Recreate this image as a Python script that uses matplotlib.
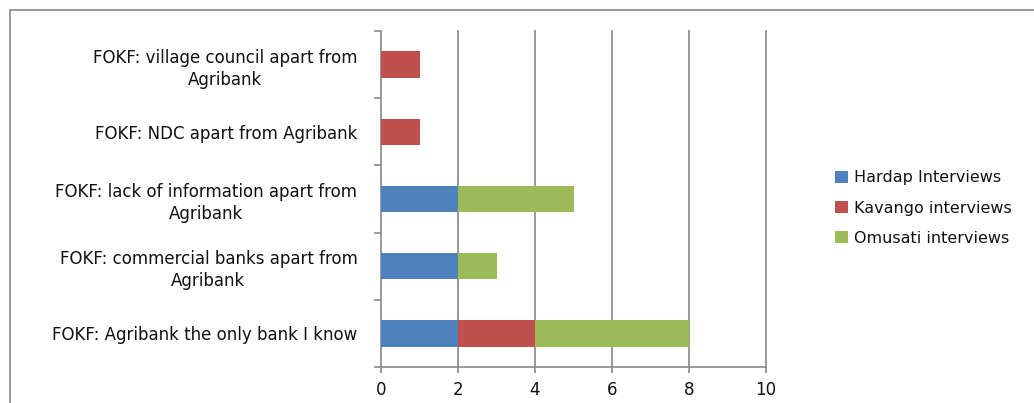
import matplotlib
matplotlib.use("Agg")
import matplotlib.pyplot as plt
from matplotlib.patches import Rectangle
import numpy as np

categories = [
    "FOKF: Agribank the only bank I know",
    "FOKF: commercial banks apart from\nAgribank",
    "FOKF: lack of information apart from\nAgribank",
    "FOKF: NDC apart from Agribank",
    "FOKF: village council apart from\nAgribank",
]
series_names = ["Hardap Interviews", "Kavango interviews", "Omusati interviews"]
hardap = [2, 2, 2, 0, 0]
kavango = [2, 0, 0, 1, 1]
omusati = [4, 1, 3, 0, 0]
colors = ["#4F81BD", "#C0504D", "#9BBB59"]
xticks = [0, 2, 4, 6, 8, 10]

plt.rcParams['font.family'] = ['DejaVu Sans']
FS = 12
fig = plt.figure(figsize=(10.34, 4.03), dpi=100)
ax = fig.add_axes([381/1034, 1-367/403, (766-381)/1034, (367-31)/403])

y = np.arange(len(categories))
left = np.zeros(len(categories))
for vals, name, c in zip([hardap, kavango, omusati], series_names, colors):
    ax.barh(y, vals, left=left, height=0.39, color=c, label=name, zorder=3)
    left += np.array(vals)

ax.set_xlim(0, 10)
ax.set_ylim(-0.5, len(categories)-0.5)
ax.set_xticks(xticks)
ax.set_xticklabels([str(v) for v in xticks], fontsize=FS, color='#111111')
ax.set_yticks(y)
ax.set_yticklabels(categories, fontsize=FS, multialignment='center',
                   color='#111111', linespacing=1.3)
ax.tick_params(axis='y', length=0, pad=17)
ax.set_yticks(np.arange(-0.5, len(categories), 1), minor=True)
ax.tick_params(axis='y', which='minor', length=5, color='#888888', direction='out', width=1.2)
ax.tick_params(axis='x', length=4, color='#888888', direction='out', pad=6, width=1.2)
for xv in xticks[1:]:
    ax.axvline(xv, color='#888888', linewidth=1.2, zorder=0, clip_on=False)
for s in ['top', 'right']:
    ax.spines[s].set_visible(False)
for s in ['left', 'bottom']:
    ax.spines[s].set_color('#888888')
    ax.spines[s].set_linewidth(1.2)

leg = ax.legend(loc='center left', bbox_to_anchor=(821/1034, 1-208/403),
                bbox_transform=fig.transFigure, frameon=False, fontsize=11.5,
                handlelength=0.8, handleheight=0.8, handletextpad=0.35,
                labelspacing=0.95)
for t in leg.get_texts():
    t.set_color('#111111')

fig.patches.append(Rectangle((10/1034, -0.1), 1.2, 1-10/403+0.1,
                             transform=fig.transFigure, fill=False,
                             edgecolor='#888888', linewidth=1.2))
fig.savefig("out.png", dpi=100)
